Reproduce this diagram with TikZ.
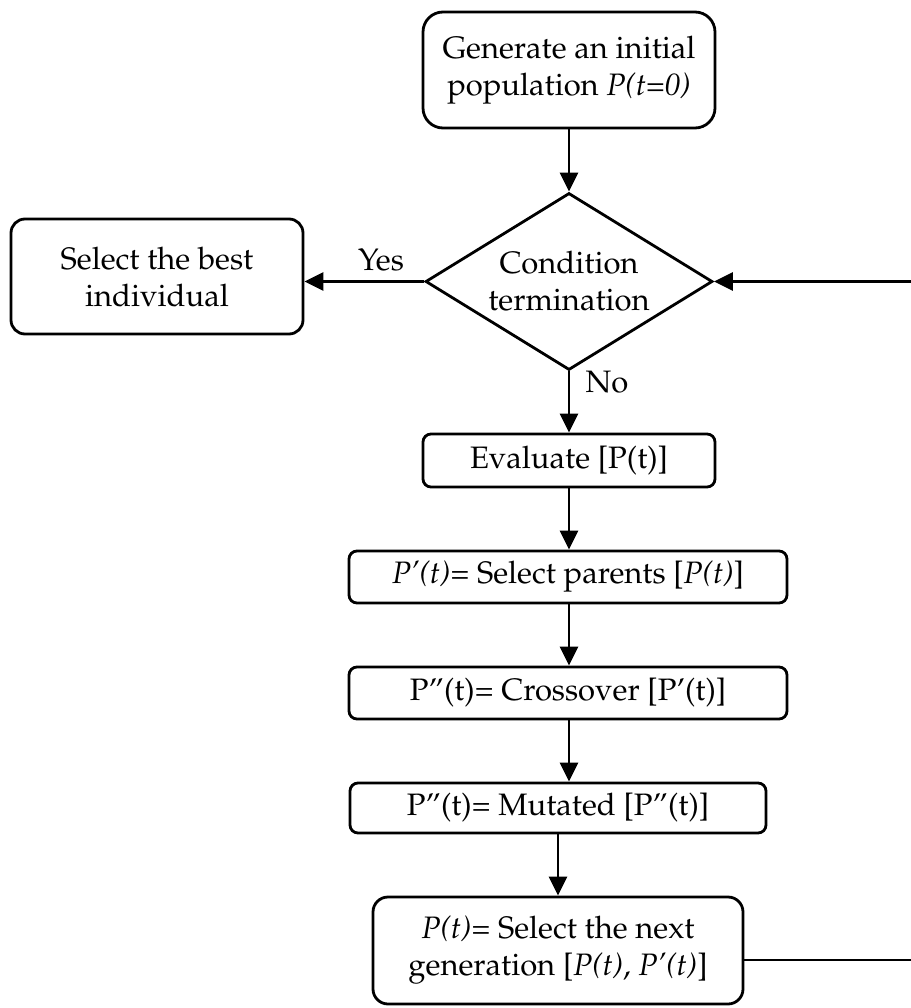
\documentclass[tikz,border=0pt]{standalone}
\usepackage[T1]{fontenc}
\usepackage{mathpazo}
\usetikzlibrary{arrows.meta,shapes.geometric}
\begin{document}
\begin{tikzpicture}[x=1pt,y=-1pt,
  every node/.style={font=\fontsize{31}{37}\selectfont},
  box/.style={draw,line width=2.8pt,rounded corners=#1,inner sep=0pt,align=center},
  box/.default=8pt,
  lbl/.style={inner sep=0pt,anchor=base},
  arr/.style={line width=2.8pt,-{Triangle[length=19pt,width=18pt]}},
  ln/.style={line width=2.8pt}]
\useasboundingbox (0,0) rectangle (910,1008);
\node[box=20pt,minimum width=292pt,minimum height=116pt] (init) at (569,70)
  {Generate an initial\\population \textit{P(t=0)}};
\node[draw,line width=2.8pt,diamond,aspect=1.62,inner sep=0pt,minimum width=287pt,minimum height=177pt,align=center] (cond) at (569,281.5)
  {Condition\\termination};
\node[box=14pt,minimum width=292pt,minimum height=115pt] (best) at (157,276.5)
  {Select the best\\individual};
\node[box,minimum width=292pt,minimum height=53pt] (eval) at (569,460.5)
  {Evaluate [P(t)]};
\node[box,minimum width=438pt,minimum height=52pt] (sel) at (568,577)
  {\textit{P'(t)}= Select parents [\textit{P(t)}]};
\node[box,minimum width=438pt,minimum height=52pt] (cross) at (568,693)
  {P''(t)= Crossover [P'(t)]};
\node[box,minimum width=416pt,minimum height=50pt] (mut) at (558,808)
  {P''(t)= Mutated [P''(t)]};
\node[box=15pt,minimum width=370pt,minimum height=107pt] (next) at (558,950.5)
  {\textit{P(t)}= Select the next\\generation [\textit{P(t)}, \textit{P'(t)}]};
\node[lbl] (yes) at (381,270) {Yes};
\node[lbl] (no) at (607,392) {No};
\coordinate (r1) at (914,960);
\draw[arr] (init.south) -- (cond.north);
\draw[arr] (cond.west) -- (cond.west -| best.east);
\draw[arr] (cond.south) -- (eval.north);
\draw[arr] (eval.south) -- (eval.south |- sel.north);
\draw[arr] (sel.south -| eval.south) -- (eval.south |- cross.north);
\draw[arr] (cross.south -| eval.south) -- (eval.south |- mut.north);
\draw[arr] (mut.south) -- (next.north);
\draw[arr] (r1 -| next.east) -- (r1) |- (cond.east);
\end{tikzpicture}
\end{document}
